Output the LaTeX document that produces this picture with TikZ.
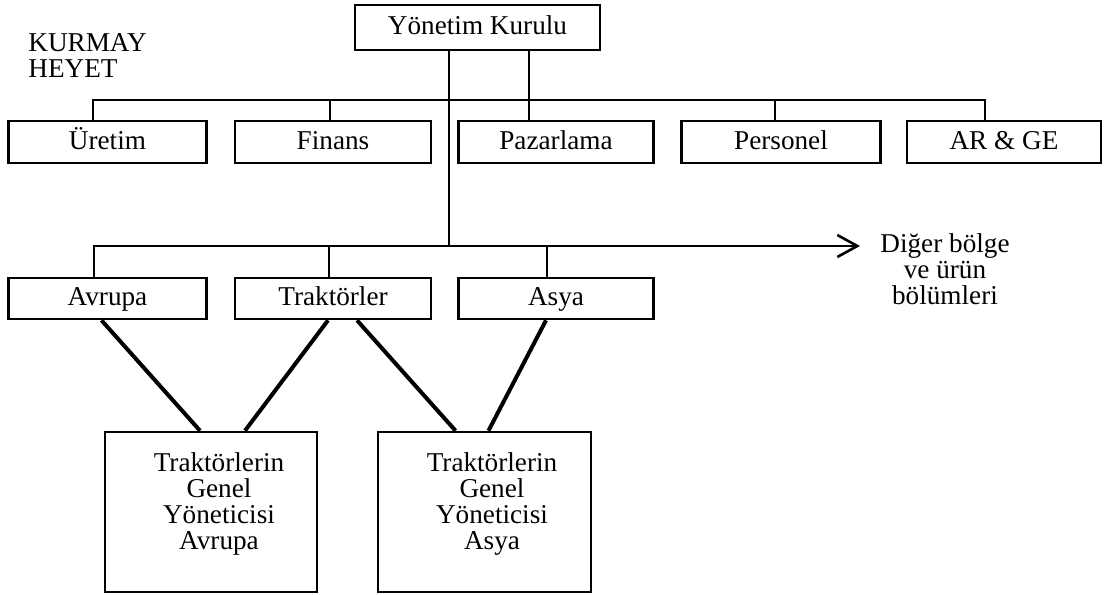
\documentclass[tikz,border=0pt]{standalone}
\usepackage{fontspec}
\setmainfont{Liberation Serif}
\usetikzlibrary{arrows.meta}
\begin{document}
\begin{tikzpicture}[x=0.5pt,y=-0.5pt,
  every node/.style={font=\fontsize{13.6}{13}\selectfont},
  unit/.style={draw, line width=1.3pt, inner sep=0pt,
    text height=0.9em, text depth=0.2em},
  staffbox/.style={unit, minimum width=99pt, minimum height=21pt},
  regionbox/.style={unit, minimum width=99pt, minimum height=20.5pt},
  gmbox/.style={draw, line width=1.3pt, inner sep=0pt, minimum height=80pt},
  gmtext/.style={align=center, inner sep=0pt},
  link/.style={line width=1.2pt},
  tie/.style={line width=2pt},
  >={Straight Barb[length=10pt,width=11pt,line width=1.3pt]}]
\useasboundingbox (0,0) rectangle (1105,595);
\fill[white] (0,0) rectangle (1105,595);

% board and staff label
\node[unit, minimum width=122.5pt, minimum height=22.5pt] (yk) at (477.5,27.5) {Yönetim Kurulu};
\node[anchor=west, align=left, inner sep=0pt] (kurmay) at (28,56) {KURMAY\\HEYET};

% staff departments
\node[staffbox, minimum width=99pt]   (uretim)   at (107.5,142) {Üretim};
\node[staffbox, minimum width=98pt]   (finans)   at (333,142)   {Finans};
\node[staffbox, minimum width=97.5pt] (pazar)    at (556,142)   {Pazarlama};
\node[staffbox, minimum width=99.5pt] (personel) at (781,142)   {Personel};
\node[staffbox, minimum width=97pt]   (arge)     at (1004,142)  {AR \& GE};

% regional and product divisions
\node[regionbox, minimum width=99pt]   (avrupa)  at (107.5,298.5) {Avrupa};
\node[regionbox, minimum width=98pt]   (traktor) at (333,298.5)   {Traktörler};
\node[regionbox, minimum width=97.5pt] (asya)    at (556,298.5)   {Asya};
\node[inner xsep=10pt, inner ysep=0pt, align=center] (other) at (945,269) {Diğer bölge\\ve ürün\\bölümleri};

% general managers
\node[gmbox, minimum width=106pt] (tavr) at (211,512) {};
\node[gmbox, minimum width=106.5pt] (tasy) at (484.5,512) {};
\node[gmtext] (tavrtext) at (219,504) {Traktörlerin\\Genel\\Yöneticisi\\Avrupa};
\node[gmtext] (tasytext) at (492,504) {Traktörlerin\\Genel\\Yöneticisi\\Asya};

% bus points
\coordinate (s1) at (93,100);
\coordinate (s2) at (330,100);
\coordinate (s3) at (529,100);
\coordinate (s4) at (775,100);
\coordinate (s5) at (985,100);
\coordinate (r1) at (94,246);
\coordinate (r0) at (449,246);
\coordinate (r2) at (329,246);
\coordinate (r3) at (547,246);

% staff bus
\draw[link] (uretim.north -| s1) |- (s5) -- (arge.north -| s5);
\draw[link] (s2) -- (finans.north -| s2);
\draw[link] (s4) -- (personel.north -| s4);
\draw[link] (yk.south -| s3) -- (pazar.north -| s3);

% line bus
\draw[link] (yk.south -| r0) -- (r0);
\draw[link,->] (avrupa.north -| r1) |- (r1 -| other.west);
\draw[link] (r2) -- (traktor.north -| r2);
\draw[link] (r3) -- (asya.north -| r3);

% matrix ties
\draw[tie] ([xshift=-3pt]avrupa.south) -- ([xshift=-5.5pt]tavr.north);
\draw[tie] ([xshift=-2.5pt]traktor.south) -- ([xshift=17pt]tavr.north);
\draw[tie] ([xshift=12pt]traktor.south) -- ([xshift=-14.5pt]tasy.north);
\draw[tie] ([xshift=-5pt]asya.south) -- ([xshift=2pt]tasy.north);
\end{tikzpicture}
\end{document}
